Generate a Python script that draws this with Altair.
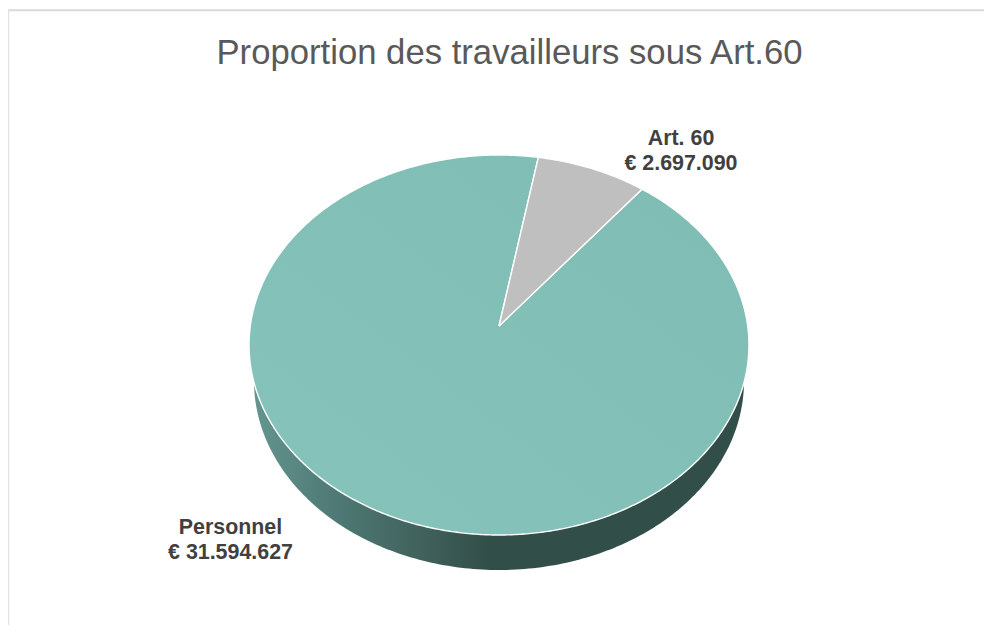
import altair as alt
import numpy as np
import pandas as pd

# Data
TITLE = "Proportion des travailleurs sous Art.60"
categories = ["Art. 60", "Personnel"]
amounts = [2697090, 31594627]
amount_labels = ["€ 2.697.090", "€ 31.594.627"]
colors = ["#BFBFBF", "#82BFB7"]

# Pie view geometry (pixels about the centre of the top ellipse)
W, H = 976, 617
CX, CY = 491, 337          # ellipse centre within the plot
A, B, K = 248.7, 190.0, 0.1  # perspective projection of the disc
ROTATION = 10.0            # first slice starts here, clockwise from 12 o'clock


def project(theta_deg):
    t = np.radians(theta_deg)
    u, v = np.sin(t), np.cos(t)
    d = 1 + K * v
    return A * u / d, (B * v + B * K) / d


def wedge(start, end):
    n = max(int(abs(end - start)) * 2, 8)
    th = np.linspace(start, end, n)
    x, y = project(th)
    x = np.concatenate([[0.0], x, [0.0]])
    y = np.concatenate([[B * K], y, [B * K]])
    return pd.DataFrame({"x": x, "y": y, "o": np.arange(len(x))})


total = sum(amounts)
sweep = [a / total * 360 for a in amounts]
art_start, art_end = ROTATION, ROTATION + sweep[0]
art = wedge(art_start, art_end)
pers = wedge(art_end, art_end + sweep[1])

# Side wall: base ellipse beneath the top face
t = np.radians(np.linspace(0, 360, 361))
wall = pd.DataFrame({
    "x": 245 * np.cos(t),
    "y": -36 + 189 * np.sin(t),
    "o": np.arange(361),
})

xs = alt.Scale(domain=[-CX, W - CX], nice=False, zero=False)
ys = alt.Scale(domain=[CY - H, CY], nice=False, zero=False)
X = alt.X("x:Q", scale=xs, axis=None)
Y = alt.Y("y:Q", scale=ys, axis=None)


def poly(df, **mark):
    return alt.Chart(df).mark_line(strokeJoin="round", **mark).encode(x=X, y=Y, order="o:Q")


wall_grad = alt.Gradient(
    gradient="linear", x1=0, x2=1, y1=0, y2=0,
    stops=[
        alt.GradientStop(color="#64958F", offset=0),
        alt.GradientStop(color="#4F7A75", offset=0.16),
        alt.GradientStop(color="#3F5F5A", offset=0.36),
        alt.GradientStop(color="#324E48", offset=0.48),
        alt.GradientStop(color="#324E48", offset=1),
    ],
)
top_grad = alt.Gradient(
    gradient="linear", x1=0, x2=1, y1=1, y2=0,
    stops=[
        alt.GradientStop(color="#86C3BB", offset=0),
        alt.GradientStop(color="#7FBCB4", offset=1),
    ],
)

wall_layer = poly(wall, fill=wall_grad, stroke="#324E48", strokeWidth=0, filled=True)
pers_layer = poly(pers, fill=top_grad, stroke="#FFFFFF", strokeWidth=1.4, filled=True)
art_layer = poly(art, fill=colors[0], stroke="#FFFFFF", strokeWidth=1.4, filled=True)

# Frame (top and left edges only are visible)
frame_top = alt.Chart(pd.DataFrame({"a": [0]})).mark_rule(color="#D9D9D9", strokeWidth=2).encode(
    x=alt.value(0), x2=alt.value(W), y=alt.value(2.3))
frame_left = alt.Chart(pd.DataFrame({"a": [0]})).mark_rule(color="#E2E2E2", strokeWidth=1.5).encode(
    x=alt.value(0.4), y=alt.value(2), y2=alt.value(H))

labels = pd.DataFrame({
    "x": [182, -268.5],
    "y": [206, -183],
    "text": [[categories[0], amount_labels[0]], [categories[1], amount_labels[1]]],
})
label_layer = alt.Chart(labels).mark_text(
    font="Liberation Sans", fontSize=21.4, fontWeight="bold",
    color="#404040", align="center", baseline="middle", lineHeight=25,
).encode(x=X, y=Y, text="text:N")

chart = (
    alt.layer(frame_top, frame_left, wall_layer, pers_layer, art_layer, label_layer)
    .properties(
        width=W, height=H, padding=0, autosize=alt.AutoSizeParams(type="none"),
        title=alt.TitleParams(
            TITLE, font="Liberation Sans", fontSize=34.7, fontWeight="normal",
            color="#595959", anchor="middle", offset=-64, dx=13.5,
        ),
    )
    .configure_view(stroke=None)
)

chart.save("out.html", embed_options={"renderer": "svg", "actions": False})
